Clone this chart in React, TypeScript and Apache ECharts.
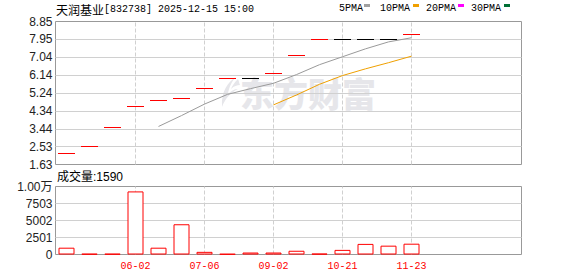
import React, { useEffect, useRef } from 'react';
import * as echarts from 'echarts';

// ---- data ----
const stockName = '天润基业';
const stockCode = '832738';
const timestamp = '2025-12-15 15:00';

// 20 category slots (16 trading bars + 4 empty slots); only some carry a tick label
const xTickLabels = ['', '', '', '06-02', '', '', '07-06', '', '', '09-02', '', '', '10-21', '', '', '11-23', '', '', '', ''];

// daily prices (open = close = high = low on every bar)
const closes = [2.22, 2.58, 3.52, 4.57, 4.87, 4.97, 5.48, 5.98, 5.98, 6.23, 7.18, 7.98, 7.98, 7.98, 7.98, 8.23];
const ma5 = [null, null, null, null, 3.55, 4.1, 4.68, 5.17, 5.46, 5.73, 6.17, 6.67, 7.07, 7.47, 7.82, 8.03];
const ma10 = [null, null, null, null, null, null, null, null, null, 4.64, 5.14, 5.68, 6.12, 6.46, 6.77, 7.1];
const volumes = [1000, 100, 100, 9280, 1000, 4450, 390, 80, 290, 290, 550, 120, 680, 1560, 1300, 1590];

const priceTickLabels = ['1.63', '2.53', '3.44', '4.34', '5.24', '6.14', '7.04', '7.95', '8.85'];
const priceMin = 1.63;
const priceMax = 8.85;
const volumeTickLabels = ['0', '2501', '5002', '7503', '1.00万'];
const volumeMax = 10004;

const legendNames = ['5PMA', '10PMA', '20PMA', '30PMA'];

// ---- styles ----
const legendColors = ['#a0a0a0', '#f0a000', '#ff00ff', '#007035'];
const legendTextX = [339, 380, 426, 471];
const legendIconX = [364, 413, 458, 504];

const logoD = 'M17 0 C9 5 2 14 3 30 C6 22 11 16 19 12 C15 12 12 14 9 17 C10 10 13 4 17 0 Z M19 2 C15 6 13 9 12 12 C15 9 18 8 21 8 C20 6 20 4 19 2 Z';
echarts.graphic.registerShape('emLogo', echarts.graphic.extendPath(logoD, {}));

const markIdx = xTickLabels.map((l, i) => (l ? i : -1)).filter((i) => i >= 0);

const dashedMarks = {
  silent: true,
  symbol: ['none', 'none'],
  z: 1,
  label: { show: false },
  lineStyle: { type: 'dashed', color: '#d0d0d0', width: 1 },
  emphasis: { disabled: true },
  data: markIdx.map((i) => ({ xAxis: i })),
};

export default function App() {
  const ref = useRef<HTMLDivElement>(null);
  useEffect(() => {
    if (!ref.current) return;
    const chart = echarts.init(ref.current, undefined, { renderer: 'svg' });
    const sansCn = '"Liberation Sans", "Noto Sans CJK SC", sans-serif';
    const option: any = {
      animation: false,
      backgroundColor: '#ffffff',
      grid: [
        { left: 55.5, top: 21.5, width: 466, height: 143, show: true, borderColor: '#999', borderWidth: 1, backgroundColor: 'transparent' },
        { left: 55, top: 21.5, width: 460, height: 143 },
        { left: 55.5, top: 186.5, width: 466, height: 68, show: true, borderColor: '#999', borderWidth: 1, backgroundColor: 'transparent' },
        { left: 55, top: 186.5, width: 460, height: 68 },
      ],
      xAxis: [
        { gridIndex: 0, type: 'value', min: 0, max: 1, show: false },
        {
          gridIndex: 1, type: 'category', data: xTickLabels, boundaryGap: true,
          axisLine: { show: false }, axisTick: { show: false }, axisLabel: { show: false }, splitLine: { show: false },
        },
        { gridIndex: 2, type: 'value', min: 0, max: 1, show: false },
        {
          gridIndex: 3, type: 'category', data: xTickLabels, boundaryGap: true,
          axisLine: { show: false }, axisTick: { show: false }, splitLine: { show: false },
          axisLabel: { show: true, interval: 0, color: '#ff0000', fontFamily: '"Liberation Mono", monospace', fontSize: 10, margin: 7 },
        },
      ],
      yAxis: [
        {
          gridIndex: 0, type: 'value', min: 0, max: priceTickLabels.length - 1, interval: 1,
          axisLine: { show: false }, axisTick: { show: false },
          axisLabel: { formatter: (v: number) => priceTickLabels[Math.round(v)], color: '#222', fontFamily: '"Liberation Sans", sans-serif', fontSize: 12, margin: 3 },
          splitLine: { show: true, showMinLine: false, showMaxLine: false, lineStyle: { color: '#d0d0d0', width: 1 } },
        },
        { gridIndex: 1, type: 'value', min: priceMin, max: priceMax, show: false },
        {
          gridIndex: 2, type: 'value', min: 0, max: volumeTickLabels.length - 1, interval: 1,
          axisLine: { show: false }, axisTick: { show: false },
          axisLabel: { formatter: (v: number) => volumeTickLabels[Math.round(v)], color: '#222', fontFamily: sansCn, fontSize: 12, margin: 3 },
          splitLine: { show: true, showMinLine: false, showMaxLine: false, lineStyle: { color: '#d0d0d0', width: 1 } },
        },
        { gridIndex: 3, type: 'value', min: 0, max: volumeMax, show: false },
      ],
      graphic: [
        { type: 'emLogo', x: 219, y: 77, z: -1, style: { fill: '#e6e6ea' } },
        {
          type: 'text', x: 240, y: 92, z: -1,
          style: { text: '东方财富', fontFamily: '"Noto Sans CJK SC"', fontSize: 34, fontWeight: 900, fill: '#e6e6ea', verticalAlign: 'middle', align: 'left' },
        },
        {
          type: 'text', x: 56, y: 9,
          style: {
            text: `{cn|${stockName}}{en|[${stockCode}] ${timestamp}}`,
            verticalAlign: 'middle',
            rich: {
              cn: { fontFamily: '"Noto Sans CJK SC"', fontSize: 12, fill: '#000' },
              en: { fontFamily: '"Liberation Mono", monospace', fontSize: 10, fill: '#000' },
            },
          },
        },
        ...legendNames.map((n, i) => ({
          type: 'text', x: legendTextX[i], y: 8,
          style: { text: n, fontFamily: '"Liberation Mono", monospace', fontSize: 10, fill: '#000', verticalAlign: 'middle' },
        })),
        ...legendNames.map((n, i) => ({
          type: 'rect', shape: { x: legendIconX[i], y: 4, width: 6, height: 3 }, style: { fill: legendColors[i] },
        })),
        {
          type: 'text', x: 57, y: 177,
          style: { text: `成交量:${volumes[volumes.length - 1]}`, fontFamily: sansCn, fontSize: 12, fill: '#000', verticalAlign: 'middle' },
        },
      ],
      series: [
        {
          type: 'custom', name: 'K', xAxisIndex: 1, yAxisIndex: 1, z: 3,
          data: closes.map((c, i) => [i, c]),
          encode: { x: 0, y: 1 },
          renderItem: (params: any, api: any) => {
            const i = api.value(0);
            const c = api.value(1);
            const pt = api.coord([i, c]);
            const prev = i > 0 ? closes[i - 1] : null;
            const color = prev === null || c > prev ? '#ff0000' : c < prev ? '#008000' : '#000000';
            const y = Math.round(pt[1]) + 0.5;
            const x1 = Math.round(pt[0] - 8.5);
            return { type: 'line', shape: { x1, y1: y, x2: x1 + 17, y2: y }, style: { stroke: color, lineWidth: 1 } };
          },
        },
        {
          type: 'line', name: legendNames[0], xAxisIndex: 1, yAxisIndex: 1, data: ma5, z: 2,
          symbol: 'none', showSymbol: false, lineStyle: { color: '#9a9a9a', width: 1 },
          markLine: dashedMarks,
        },
        {
          type: 'line', name: legendNames[1], xAxisIndex: 1, yAxisIndex: 1, data: ma10, z: 2,
          symbol: 'none', showSymbol: false, lineStyle: { color: '#f0a000', width: 1 },
        },
        {
          type: 'bar', name: '成交量', xAxisIndex: 3, yAxisIndex: 3, data: volumes, z: 2,
          barWidth: 16, itemStyle: { color: '#ffffff', borderColor: '#ff0000', borderWidth: 1 },
          markLine: dashedMarks,
        },
      ],
    };
    chart.setOption(option);
    return () => chart.dispose();
  }, []);
  return <div ref={ref} style={{ position: 'absolute', left: 0, top: 0, width: 578, height: 276 }} />;
}
